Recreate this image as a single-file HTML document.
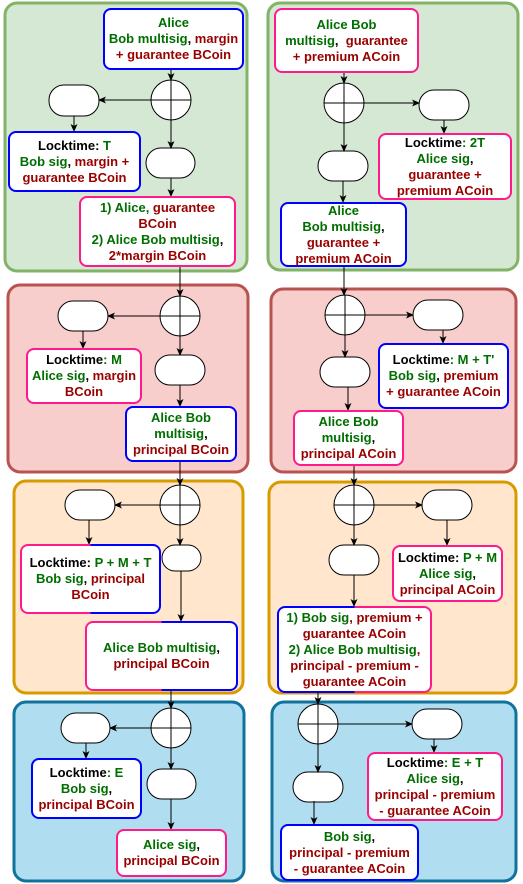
<!DOCTYPE html>
<html><head><meta charset="utf-8"><style>
body{margin:0;width:523px;height:884px;position:relative;background:#fff;font-family:"Liberation Sans",sans-serif;overflow:hidden}
svg{position:absolute;left:0;top:0}
.b{position:absolute;box-sizing:border-box;background:#fff;border:2px solid #0000ff;border-radius:8px;display:flex;align-items:center;justify-content:center;text-align:center;font-weight:bold;font-size:13px;line-height:16px;color:#000;white-space:nowrap}
.p{border-color:#ff1a8c}
.g{color:#006e00}.r{color:#990000}
.h{border:none;padding:2px}
.h>div{background:#fff;border-radius:6px;width:100%;height:100%;display:flex;align-items:center;justify-content:center}
</style></head><body>
<svg width="523" height="884">
<defs><marker id="a" markerWidth="8" markerHeight="8" refX="7" refY="4" orient="auto" markerUnits="userSpaceOnUse"><path d="M0,0.5 L8,4 L0,7.5 L2,4z" fill="#000"/></marker></defs>
<g stroke-width="3">
<rect x="5" y="3" width="242" height="268" rx="12" fill="#d5e8d4" stroke="#82b366"/>
<rect x="268" y="3" width="250" height="267" rx="12" fill="#d5e8d4" stroke="#82b366"/>
<rect x="8" y="285" width="240" height="187" rx="12" fill="#f8cecc" stroke="#b85450"/>
<rect x="271" y="289" width="245" height="183" rx="12" fill="#f8cecc" stroke="#b85450"/>
<rect x="14" y="481" width="229" height="212" rx="12" fill="#ffe6cc" stroke="#d79b00"/>
<rect x="269" y="482" width="247" height="211" rx="12" fill="#ffe6cc" stroke="#d79b00"/>
<rect x="14" y="702" width="230" height="179" rx="12" fill="#b1ddf0" stroke="#10739e"/>
<rect x="272" y="702" width="244" height="179" rx="12" fill="#b1ddf0" stroke="#10739e"/>
</g>
<g fill="#fff" stroke="#000" stroke-width="1">
<rect x="49" y="85" width="50" height="31" rx="15"/><rect x="146" y="148" width="49" height="30" rx="15"/>
<rect x="419" y="90" width="50" height="30" rx="15"/><rect x="318" y="151" width="50" height="30" rx="15"/>
<rect x="58" y="301" width="50" height="30" rx="15"/><rect x="155" y="355" width="50" height="30" rx="15"/>
<rect x="413" y="300" width="50" height="30" rx="15"/><rect x="320" y="357" width="50" height="30" rx="15"/>
<rect x="65" y="490" width="50" height="30" rx="15"/><rect x="162" y="545" width="39" height="26" rx="13"/>
<rect x="422" y="490" width="50" height="30" rx="15"/><rect x="329" y="545" width="50" height="30" rx="15"/>
<rect x="61" y="713" width="49" height="30" rx="15"/><rect x="147" y="769" width="49" height="30" rx="15"/>
<rect x="412" y="709" width="50" height="30" rx="15"/><rect x="293" y="772" width="50" height="30" rx="15"/>
<circle cx="171" cy="100" r="20"/><circle cx="344" cy="103" r="20"/>
<circle cx="180" cy="316" r="20"/><circle cx="345" cy="315" r="20"/>
<circle cx="180" cy="505" r="20"/><circle cx="354" cy="505" r="20"/>
<circle cx="171" cy="728" r="20"/><circle cx="318" cy="724" r="20"/>
</g>
<g stroke="#000" stroke-width="1" fill="none">
<path d="M151,100H191M324,103H364M160,316H200M325,315H365M160,505H200M334,505H374M151,728H191M298,724H338"/>
<path d="M171,80V120M344,83V123M180,296V336M345,295V335M180,485V525M354,485V525M171,708V748M318,704V744"/>
</g>
<g stroke="#000" stroke-width="1" fill="none" marker-end="url(#a)">
<path d="M171,69V80"/><path d="M151,100H99"/><path d="M74,116V131"/><path d="M171,120V148"/><path d="M171,178V196"/><path d="M157,266H180V296"/>
<path d="M344,72V83"/><path d="M364,103H419"/><path d="M444,120V133"/><path d="M344,123V151"/><path d="M343,181V202"/><path d="M344,266V295"/>
<path d="M160,316H108"/><path d="M83,331V348"/><path d="M180,336V355"/><path d="M180,385V406"/><path d="M180,461V485"/>
<path d="M365,315H413"/><path d="M443,330V343"/><path d="M345,335V357"/><path d="M348,387V410"/><path d="M354,465V485"/>
<path d="M160,505H115"/><path d="M89,520V544"/><path d="M180,525V545"/><path d="M181,571V621"/><path d="M171,690V708"/>
<path d="M374,505H422"/><path d="M447,520V545"/><path d="M354,525V545"/><path d="M354,575V606"/><path d="M318,692V704"/>
<path d="M151,728H110"/><path d="M86,743V758"/><path d="M171,748V769"/><path d="M171,799V829"/>
<path d="M338,724H412"/><path d="M434,739V752"/><path d="M318,744V772"/><path d="M314,801V824"/>
</g>
</svg>

<div class="b" style="left:103px;top:8px;width:141px;height:62px"><div><span class="g">Alice<br>Bob multisig</span>, <span class="r">margin<br>+ guarantee BCoin</span></div></div>
<div class="b" style="left:8px;top:131px;width:133px;height:61px"><div>Locktime: <span class="g">T<br>Bob sig</span>, <span class="r">margin +<br>guarantee BCoin</span></div></div>
<div class="b p" style="left:79px;top:196px;width:157px;height:71px"><div><span class="g">1) Alice, </span> <span class="r">guarantee<br>BCoin</span><br><span class="g">2) Alice Bob multisig</span>,<br><span class="r">2*margin BCoin</span></div></div>

<div class="b p" style="left:274px;top:8px;width:145px;height:65px"><div><span class="g">Alice Bob<br>multisig</span>, &nbsp;<span class="r">guarantee<br>+ premium ACoin</span></div></div>
<div class="b p" style="left:378px;top:133px;width:134px;height:67px"><div>Locktime<span class="g">: 2T<br>Alice sig</span>,<br><span class="r">guarantee +<br>premium ACoin</span></div></div>
<div class="b" style="left:280px;top:202px;width:127px;height:65px"><div><span class="g">Alice<br>Bob multisig</span>,<br><span class="r">guarantee +<br>premium ACoin</span></div></div>

<div class="b p" style="left:26px;top:348px;width:116px;height:56px"><div>Locktime<span class="g">: M<br>Alice sig</span>, <span class="r">margin<br>BCoin</span></div></div>
<div class="b" style="left:125px;top:406px;width:112px;height:56px"><div><span class="g">Alice Bob<br>multisig</span>,<br><span class="r">principal BCoin</span></div></div>
<div class="b" style="left:378px;top:343px;width:131px;height:66px"><div>Locktime<span class="g">: M + T'<br>Bob sig</span>, <span class="r">premium<br>+ guarantee ACoin</span></div></div>
<div class="b p" style="left:293px;top:410px;width:111px;height:56px"><div><span class="g">Alice Bob<br>multisig</span>,<br><span class="r">principal ACoin</span></div></div>

<div class="b h" style="left:20px;top:544px;width:141px;height:70px;background:linear-gradient(to right,#ff1a8c 50%,#0000ff 50%)"><div><div>Locktime: <span class="g">P + M + T</span><br><span class="g">Bob sig</span>, <span class="r">principal<br>BCoin</span></div></div></div>
<div class="b h" style="left:85px;top:621px;width:153px;height:70px;background:linear-gradient(to right,#ff1a8c 50%,#0000ff 50%)"><div><div><span class="g">Alice Bob multisig</span>,<br><span class="r">principal BCoin</span></div></div></div>
<div class="b p" style="left:392px;top:545px;width:111px;height:57px"><div>Locktime: <span class="g">P + M<br>Alice sig</span>,<br><span class="r">principal ACoin</span></div></div>
<div class="b h" style="left:277px;top:606px;width:155px;height:87px;background:linear-gradient(to right,#0000ff 50%,#ff1a8c 50%)"><div><div><span class="r"><span class="g">1) Bob sig</span>, premium +<br>guarantee ACoin<br><span class="g">2) Alice Bob multisig</span>,<br>principal - premium -<br>guarantee ACoin</span></div></div></div>

<div class="b" style="left:31px;top:758px;width:111px;height:61px"><div>Locktime<span class="g">: E<br>Bob sig</span>,<br><span class="r">principal BCoin</span></div></div>
<div class="b p" style="left:116px;top:829px;width:111px;height:48px"><div><span class="g">Alice sig</span>,<br><span class="r">principal BCoin</span></div></div>
<div class="b p" style="left:367px;top:752px;width:136px;height:69px"><div>Locktime<span class="g">: E + T<br>Alice sig</span>,<br><span class="r">principal - premium<br>- guarantee ACoin</span></div></div>
<div class="b" style="left:280px;top:824px;width:139px;height:57px"><div><span class="g">Bob sig</span>,<br><span class="r">principal - premium<br>- guarantee ACoin</span></div></div>
</body></html>
